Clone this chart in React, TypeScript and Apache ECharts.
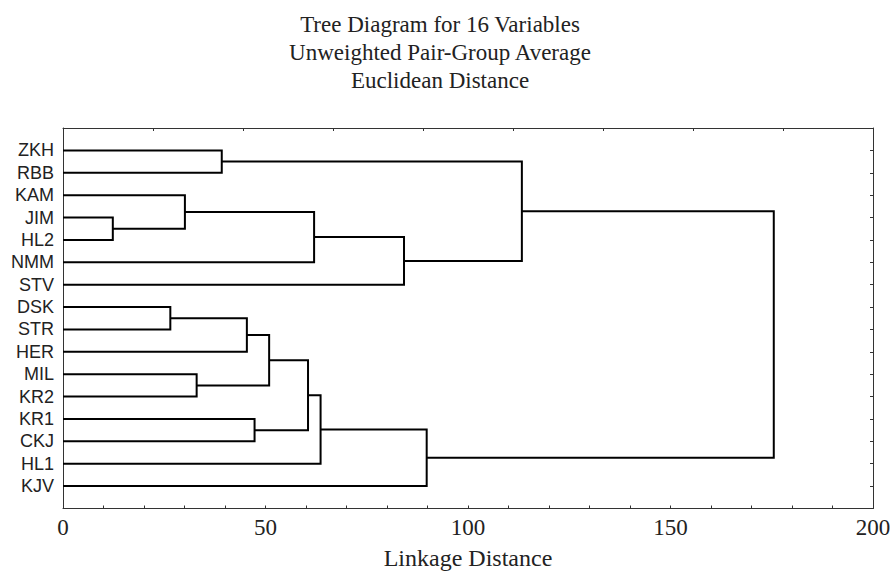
import React, { useEffect, useRef } from "react";
import * as echarts from "echarts";

const titleLines = ["Tree Diagram for 16 Variables", "Unweighted Pair-Group Average", "Euclidean Distance"];
const xAxisName = "Linkage Distance";
const leafLabels = ["ZKH", "RBB", "KAM", "JIM", "HL2", "NMM", "STV", "DSK", "STR", "HER", "MIL", "KR2", "KR1", "CKJ", "HL1", "KJV"];
// merges: node ids < 16 are leaves, >= 16 are clusters formed by earlier merges (id = 16 + merge index)
const mergeLeft = [3, 7, 2, 10, 0, 17, 12, 21, 23, 18, 24, 25, 26, 20, 29];
const mergeRight = [4, 8, 16, 11, 1, 9, 13, 19, 22, 5, 14, 6, 15, 27, 28];
const mergeHeight = [12.3, 26.5, 30.1, 33.0, 39.2, 45.4, 47.3, 50.9, 60.5, 62.0, 63.6, 84.2, 89.8, 113.3, 175.5];

const FONT_SERIF = "'Liberation Serif', 'Times New Roman', serif";
const FONT_SANS = "'Liberation Sans', Arial, sans-serif";

export default function App() {
  const ref = useRef<HTMLDivElement>(null);
  useEffect(() => {
    if (!ref.current) return;
    const chart = echarts.init(ref.current, null, { renderer: "svg" });
    const n = leafLabels.length;
    const nodeX: number[] = [];
    const nodeY: number[] = [];
    for (let i = 0; i < n; i++) {
      nodeX.push(0);
      nodeY.push(i);
    }
    const segs: number[][] = [];
    for (let k = 0; k < mergeHeight.length; k++) {
      const a = mergeLeft[k];
      const b = mergeRight[k];
      const h = mergeHeight[k];
      segs.push([nodeX[a], nodeY[a], nodeX[b], nodeY[b], h]);
      nodeX.push(h);
      nodeY.push((nodeY[a] + nodeY[b]) / 2);
    }
    const axisLine = { show: true, onZero: false, lineStyle: { color: "#333", width: 1 } };
    const tick = { show: true, inside: true, length: 3, lineStyle: { color: "#333" } };
    chart.setOption({
      animation: false,
      backgroundColor: "#fff",
      graphic: titleLines.map((t, i) => ({
        type: "text",
        x: 440,
        y: 13 + i * 28,
        style: {
          text: t,
          fill: "#222",
          font: `23px ${FONT_SERIF}`,
          textAlign: "center",
          textVerticalAlign: "top",
        },
      })),
      grid: { left: 63, right: 21, top: 128, bottom: 67.5, containLabel: false },
      xAxis: [
        {
          type: "value",
          position: "bottom",
          min: 0,
          max: 200,
          interval: 10,
          name: xAxisName,
          nameLocation: "middle",
          nameGap: 37,
          nameTextStyle: { fontFamily: FONT_SERIF, fontSize: 24, color: "#222" },
          axisLine,
          axisTick: tick,
          axisLabel: {
            fontFamily: FONT_SERIF,
            fontSize: 23,
            color: "#222",
            margin: 7,
            formatter: (v: number) => (v % 50 === 0 ? String(v) : ""),
          },
          splitLine: { show: false },
        },
        {
          type: "value",
          position: "top",
          min: 0,
          max: 9,
          interval: 1,
          axisLine,
          axisTick: tick,
          axisLabel: { show: false },
          splitLine: { show: false },
        },
      ],
      yAxis: [
        {
          type: "value",
          position: "left",
          inverse: true,
          min: -1,
          max: 16,
          interval: 1,
          axisLine,
          axisTick: { show: false },
          axisLabel: {
            fontFamily: FONT_SANS,
            fontSize: 18,
            color: "#222",
            margin: 9,
            formatter: (v: number) => leafLabels[v] ?? "",
          },
          splitLine: { show: false },
        },
        {
          type: "value",
          position: "right",
          inverse: true,
          min: -1,
          max: 16,
          interval: 1,
          axisLine,
          axisTick: tick,
          axisLabel: { show: false },
          splitLine: { show: false },
        },
      ],
      series: [
        {
          type: "custom",
          xAxisIndex: 0,
          yAxisIndex: 0,
          clip: false,
          data: segs,
          renderItem: (params: any, api: any) => {
            const p1 = api.coord([api.value(0), api.value(1)]);
            const p2 = api.coord([api.value(4), api.value(1)]);
            const p3 = api.coord([api.value(4), api.value(3)]);
            const p4 = api.coord([api.value(2), api.value(3)]);
            return {
              type: "polyline",
              shape: { points: [p1, p2, p3, p4] },
              style: { stroke: "#000", lineWidth: 2, fill: "none" },
            };
          },
        },
      ],
    });
    return () => chart.dispose();
  }, []);
  return (
    <div
      ref={ref}
      style={{ position: "fixed", left: 0, top: 0, width: 894, height: 576, background: "#fff" }}
    />
  );
}
